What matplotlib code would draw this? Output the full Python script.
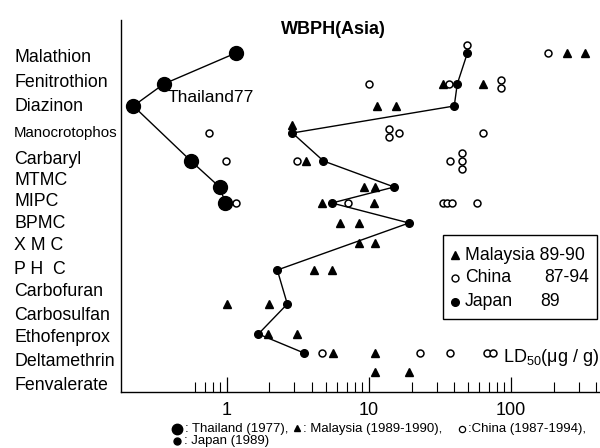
import numpy as np
import matplotlib
matplotlib.use('Agg')
import matplotlib.pyplot as plt
import matplotlib.transforms as mtransforms
from matplotlib.lines import Line2D
from matplotlib.patches import Rectangle
from matplotlib.ticker import FixedLocator, NullFormatter

plt.rcParams['font.family'] = ['Liberation Sans', 'DejaVu Sans']
plt.rcParams['mathtext.fontset'] = 'custom'
plt.rcParams['mathtext.rm'] = 'Liberation Sans'
plt.rcParams['mathtext.it'] = 'Liberation Sans:italic'

# ---- data (LD50, ug/g) ----
compounds = ['Malathion', 'Fenitrothion', 'Diazinon', 'Manocrotophos', 'Carbaryl',
             'MTMC', 'MIPC', 'BPMC', 'XMC', 'PHC', 'Carbofuran', 'Carbosulfan',
             'Ethofenprox', 'Deltamethrin', 'Fenvalerate']
label_text = ['Malathion', 'Fenitrothion', 'Diazinon', 'Manocrotophos', 'Carbaryl',
              'MTMC', 'MIPC', 'BPMC', 'X M C', 'P H  C', 'Carbofuran', 'Carbosulfan',
              'Ethofenprox', 'Deltamethrin', 'Fenvalerate']

# Thailand 1977
thai_cmp = ['Malathion', 'Fenitrothion', 'Diazinon', 'Carbaryl', 'MTMC', 'MIPC']
thai_ld50 = [1.16, 0.36, 0.22, 0.56, 0.89, 0.98]

# Japan 1989
japan_cmp = ['Malathion', 'Fenitrothion', 'Diazinon', 'Manocrotophos', 'Carbaryl', 'MTMC',
             'MIPC', 'BPMC', 'PHC', 'Carbosulfan', 'Ethofenprox', 'Deltamethrin']
japan_ld50 = [49.5, 42, 40, 2.9, 4.8, 15.1, 5.5, 19.2, 2.27, 2.67, 1.67, 3.5]

# Malaysia 1989-90
malay_cmp = ['Malathion', 'Malathion', 'Fenitrothion', 'Fenitrothion', 'Diazinon', 'Diazinon',
             'Manocrotophos', 'Carbaryl', 'MTMC', 'MTMC', 'MIPC', 'MIPC', 'BPMC', 'BPMC',
             'XMC', 'XMC', 'PHC', 'PHC', 'Carbosulfan', 'Carbosulfan', 'Ethofenprox',
             'Ethofenprox', 'Deltamethrin', 'Deltamethrin', 'Fenvalerate', 'Fenvalerate']
malay_ld50 = [248, 334, 33.2, 63.5, 11.5, 15.5,
              2.9, 3.6, 9.3, 11.1, 4.7, 10.9, 6.3, 8.6,
              8.6, 11.0, 4.1, 5.5, 1.01, 2.0, 1.94,
              3.1, 5.6, 11.1, 11.1, 19.2]

# China 1987-94
china_cmp = ['Malathion', 'Malathion',
             'Fenitrothion', 'Fenitrothion', 'Fenitrothion', 'Fenitrothion',
             'Manocrotophos', 'Manocrotophos', 'Manocrotophos', 'Manocrotophos', 'Manocrotophos',
             'Carbaryl', 'Carbaryl', 'Carbaryl', 'Carbaryl', 'Carbaryl', 'Carbaryl',
             'MIPC', 'MIPC', 'MIPC', 'MIPC', 'MIPC', 'MIPC',
             'Deltamethrin', 'Deltamethrin', 'Deltamethrin', 'Deltamethrin', 'Deltamethrin']
china_ld50 = [49.5, 184,
              10.1, 36.5, 86, 86,
              0.75, 13.9, 13.9, 16.2, 64,
              0.99, 3.1, 37.4, 45, 45, 45,
              1.16, 7.1, 33.5, 35.7, 38.4, 57.6,
              4.7, 23, 37.4, 67.7, 75.4]

# ---- layout (pixel rows of the scanned figure) ----
row_y = [53, 84, 106, 133, 161, 187, 203, 223, 243, 270, 291, 304, 334, 353, 372]
label_y = [58, 83, 107, 133, 160, 181, 202, 224, 246, 270, 291, 316, 338, 362, 385]
rows = dict(zip(compounds, row_y))
japan_map = dict(zip(japan_cmp, japan_ld50))

W, H = 600, 448


def fx(x):
    return x / W


def fy(y):
    return 1 - y / H


def stacked_y(cmp, vals, step=8):
    # repeated values are stacked vertically, like in the original figure
    ys = []
    for i, (c, v) in enumerate(zip(cmp, vals)):
        same = [j for j, (c2, v2) in enumerate(zip(cmp, vals)) if c2 == c and v2 == v]
        d = (same.index(i) - (len(same) - 1) / 2) * step
        if c in japan_map and abs(np.log10(v / japan_map[c])) < 0.015:
            d -= step
        ys.append(rows[c] + d)
    return ys


fig = plt.figure(figsize=(6, 4.48), dpi=100)
ax = fig.add_axes([fx(120.5), fy(392), fx(600) - fx(120.5), fy(20) - fy(392)])
ax.set_xscale('log')
ax.set_xlim(0.1786, 425)
ax.set_ylim(392, 20)

ax.plot(thai_ld50, [rows[c] for c in thai_cmp], '-o', color='k', ms=10, lw=1.0, zorder=2)
ax.plot(japan_ld50, [rows[c] for c in japan_cmp], '-o', color='k', ms=5.5, lw=1.0, zorder=4)
ax.plot(malay_ld50, stacked_y(malay_cmp, malay_ld50), '^', ls='none', color='k', ms=6,
        zorder=3, clip_on=False)
ax.plot(china_ld50, stacked_y(china_cmp, china_ld50), 'o', ls='none', mfc='white',
        mec='k', mew=1.1, ms=5, zorder=3, clip_on=False)

# axes style
for s in ['top', 'right']:
    ax.spines[s].set_visible(False)
ax.spines['left'].set_linewidth(1.0)
ax.spines['bottom'].set_linewidth(1.0)
ax.tick_params(axis='y', left=False, labelleft=False)
ax.xaxis.set_major_locator(FixedLocator([1, 10, 100]))
ax.set_xticklabels(['1', '10', '100'])
minor = [m * 10.0 ** e for e in (-1, 0, 1, 2) for m in range(2, 10)]
minor = [t for t in minor if 0.55 < t < 425]
ax.xaxis.set_minor_locator(FixedLocator(minor))
ax.xaxis.set_minor_formatter(NullFormatter())
ax.tick_params(axis='x', which='major', direction='in', length=11, width=0.9,
               labelsize=13, pad=7)
ax.tick_params(axis='x', which='minor', direction='in', length=7, width=0.8)

# category labels
trans = mtransforms.blended_transform_factory(fig.transFigure, ax.transData)
for name, y in zip(label_text, label_y):
    size = 10.8 if name == 'Manocrotophos' else 12.8
    ax.text(fx(14), y, name, transform=trans, ha='left', va='center', fontsize=size,
            clip_on=False)

fig.text(fx(333), fy(30), 'WBPH(Asia)', ha='center', va='center', fontsize=13,
         fontweight='bold')
fig.text(fx(168), fy(97), 'Thailand77', ha='left', va='center', fontsize=12.6)
fig.text(fx(599), fy(357), r'LD$_{\mathrm{50}}$(μg / g)', ha='right', va='center',
         fontsize=13)

# legend box
fig.add_artist(Rectangle((fx(442.7), fy(319)), fx(154), 84 / H, transform=fig.transFigure,
                         fill=False, edgecolor='k', lw=1.0))
fig.add_artist(Line2D([fx(455)], [fy(255)], transform=fig.transFigure, marker='^',
                      color='k', ms=6, ls='none'))
fig.add_artist(Line2D([fx(455)], [fy(278)], transform=fig.transFigure, marker='o',
                      mfc='white', mec='k', mew=1.0, ms=5, ls='none'))
fig.add_artist(Line2D([fx(455)], [fy(301.7)], transform=fig.transFigure, marker='o',
                      color='k', ms=5.5, ls='none'))
fig.text(fx(465), fy(255), 'Malaysia 89-90', ha='left', va='center', fontsize=12.7)
fig.text(fx(465), fy(278), 'China', ha='left', va='center', fontsize=12.7)
fig.text(fx(589), fy(278), '87-94', ha='right', va='center', fontsize=12.7)
fig.text(fx(465), fy(301.7), 'Japan', ha='left', va='center', fontsize=12.7)
fig.text(fx(540), fy(301.7), '89', ha='left', va='center', fontsize=12.7)

# caption under the axis
cap_y1, cap_y2 = 428.5, 440.5
fig.add_artist(Line2D([fx(177)], [fy(cap_y1)], transform=fig.transFigure, marker='o',
                      color='k', ms=7.5, ls='none'))
fig.text(fx(185), fy(cap_y1), ': Thailand (1977),', ha='left', va='center', fontsize=9.5)
fig.add_artist(Line2D([fx(297)], [fy(cap_y1 - 1)], transform=fig.transFigure, marker='^',
                      color='k', ms=5, ls='none'))
fig.text(fx(303), fy(cap_y1), ': Malaysia (1989-1990),', ha='left', va='center', fontsize=9.5)
fig.add_artist(Line2D([fx(462)], [fy(cap_y1)], transform=fig.transFigure, marker='o',
                      mfc='white', mec='k', mew=0.9, ms=4.5, ls='none'))
fig.text(fx(468), fy(cap_y1), ':China (1987-1994),', ha='left', va='center', fontsize=9.5)
fig.add_artist(Line2D([fx(177)], [fy(cap_y2)], transform=fig.transFigure, marker='o',
                      color='k', ms=5, ls='none'))
fig.text(fx(184), fy(cap_y2), ': Japan (1989)', ha='left', va='center', fontsize=9.5)

fig.savefig('out.png', dpi=100)
